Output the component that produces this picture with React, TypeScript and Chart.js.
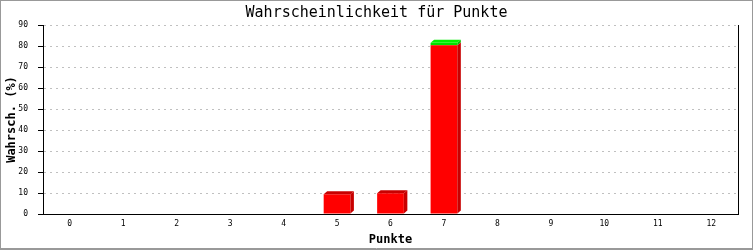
import React, { useEffect, useRef } from "react";
import { Chart, registerables } from "chart.js";

Chart.register(...registerables);

const categories = ["0", "1", "2", "3", "4", "5", "6", "7", "8", "9", "10", "11", "12"];
const redValues = [0, 0, 0, 0, 0, 9.4, 9.9, 80.3, 0, 0, 0, 0, 0];
const greenValues = [0, 0, 0, 0, 0, 0, 0, 1.2, 0, 0, 0, 0, 0];
const yMin = 0;
const yMax = 90;
const yStep = 10;
const chartTitle = "Wahrscheinlichkeit für Punkte";
const xTitle = "Punkte";
const yTitle = "Wahrsch. (%)";

const FRONT = ["#ff0000", "#00e000"];
const SIDE = ["#c80000", "#00c000"];
const TOP = ["#c80000", "#00f000"];
const MONO = "'DejaVu Sans Mono', 'Liberation Mono', monospace";

const threeD = {
  id: "threeD",
  afterDatasetsDraw(chart: any) {
    const ctx = chart.ctx;
    const dx = 3.5;
    const dy = 3;
    const n = chart.data.datasets.length;
    ctx.save();
    for (let d = 0; d < n; d++) {
      const meta = chart.getDatasetMeta(d);
      const ds = chart.data.datasets[d];
      meta.data.forEach((el: any, i: number) => {
        const v = ds.data[i];
        if (!v) return;
        const { x, y, base, width } = el.getProps(["x", "y", "base", "width"], true);
        const left = x - width / 2;
        const right = x + width / 2;
        ctx.fillStyle = SIDE[d];
        ctx.beginPath();
        ctx.moveTo(right, y);
        ctx.lineTo(right + dx, y - dy);
        ctx.lineTo(right + dx, base - dy);
        ctx.lineTo(right, base);
        ctx.closePath();
        ctx.fill();
        let covered = false;
        for (let k = d + 1; k < n; k++) {
          if (chart.data.datasets[k].data[i]) covered = true;
        }
        if (!covered) {
          ctx.fillStyle = TOP[d];
          ctx.beginPath();
          ctx.moveTo(left, y);
          ctx.lineTo(left + dx, y - dy);
          ctx.lineTo(right + dx, y - dy);
          ctx.lineTo(right, y);
          ctx.closePath();
          ctx.fill();
        }
      });
    }
    ctx.restore();
  },
  afterDraw(chart: any) {
    const ctx = chart.ctx;
    ctx.save();
    ctx.strokeStyle = "#999999";
    ctx.lineWidth = 1;
    ctx.strokeRect(0.5, 0.5, chart.width - 1, chart.height - 1);
    ctx.beginPath();
    ctx.moveTo(0, chart.height - 1.5);
    ctx.lineTo(chart.width, chart.height - 1.5);
    ctx.stroke();
    ctx.restore();
  },
};

export default function App() {
  const ref = useRef<HTMLCanvasElement>(null);
  useEffect(() => {
    document.body.style.margin = "0";
    const canvas = ref.current!;
    const chart = new Chart(canvas, {
      type: "bar",
      data: {
        labels: categories,
        datasets: [
          {
            data: redValues,
            backgroundColor: FRONT[0],
            borderWidth: 0,
            barPercentage: 0.5,
            categoryPercentage: 1,
            yAxisID: "y",
          },
          {
            data: greenValues,
            backgroundColor: FRONT[1],
            borderWidth: 0,
            barPercentage: 0.5,
            categoryPercentage: 1,
            yAxisID: "y",
          },
        ],
      },
      options: {
        animation: false,
        responsive: false,
        devicePixelRatio: 1,
        layout: { padding: 0 },
        plugins: {
          legend: { display: false },
          tooltip: { enabled: false },
          title: {
            display: true,
            text: chartTitle,
            color: "#000",
            font: { family: MONO, size: 15, weight: "normal", lineHeight: 1.2 },
            padding: { top: 4, bottom: 3 },
          },
        },
        scales: {
          x: {
            stacked: true,
            grid: { display: false, drawTicks: false },
            border: { display: true, color: "#000", width: 1 },
            ticks: {
              color: "#000",
              font: { family: MONO, size: 8 },
              padding: 5,
              maxRotation: 0,
              autoSkip: false,
            },
            title: {
              display: true,
              text: xTitle,
              color: "#000",
              font: { family: MONO, size: 12, weight: "bold" },
              padding: { top: 0, bottom: 3 },
            },
            afterFit: (s: any) => {
              s.height = 36;
            },
          },
          y: {
            stacked: true,
            position: "left",
            min: yMin,
            max: yMax,
            grid: {
              color: (c: any) => (c.tick && c.tick.value === 0 ? "rgba(0,0,0,0)" : "#c0c0c0"),
              lineWidth: 1,
              drawTicks: true,
              tickLength: 5,
              tickColor: "#000",
            },
            border: { display: true, color: "#000", width: 1, dash: [2, 4] },
            ticks: {
              stepSize: yStep,
              color: "#000",
              font: { family: MONO, size: 8 },
              padding: 10,
            },
            title: {
              display: true,
              text: yTitle,
              color: "#000",
              font: { family: MONO, size: 12, weight: "bold" },
              padding: { top: 5, bottom: 0 },
            },
            afterFit: (s: any) => {
              s.width = 43;
            },
          },
          yr: {
            position: "right",
            display: true,
            grid: { display: true, drawOnChartArea: false, drawTicks: false },
            border: { display: true, color: "#000", width: 1 },
            ticks: { display: false },
            afterFit: (s: any) => {
              s.width = 15;
            },
          },
        },
      },
      plugins: [threeD],
    } as any);
    return () => chart.destroy();
  }, []);
  return (
    <div style={{ width: 753, height: 250 }}>
      <canvas ref={ref} width={753} height={250} style={{ width: 753, height: 250, display: "block" }} />
    </div>
  );
}
